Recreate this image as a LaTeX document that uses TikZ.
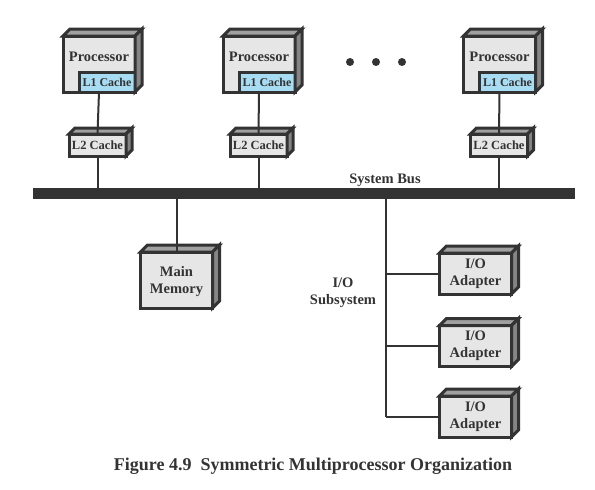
\documentclass[tikz,border=0pt]{standalone}
\usepackage{fontspec}
\setmainfont{Liberation Serif}
\definecolor{ink}{HTML}{333333}
\definecolor{front}{HTML}{E6E6E6}
\definecolor{topface}{HTML}{A0A0A0}
\definecolor{sideface}{HTML}{858585}
\definecolor{cacheblue}{HTML}{A8DCF2}
\begin{document}
\begin{tikzpicture}[x=1pt, y=-1pt, text=ink,
  box/.style={rectangle, draw=ink, line width=3pt, fill=front, inner sep=0pt, outer sep=0pt, minimum width=72, minimum height=#1, font=\fontsize{14.5}{17}\selectfont\bfseries, align=center},
  box/.default=56,
  small/.style={box, minimum width=57, minimum height=22, font=\fontsize{12.5}{14}\selectfont\bfseries},
  l1/.style={small, fill=cacheblue, minimum width=56, minimum height=20, anchor=south east, font=\fontsize{12}{14}\selectfont\bfseries},
  ptext/.style={anchor=north, yshift=-12.5pt, font=\fontsize{14.5}{17}\selectfont\bfseries},
  face/.style={draw=ink, line width=3pt, line join=miter, fill=#1},
  wire/.style={draw=ink, line width=2pt},
  dot/.style={circle, fill=ink, inner sep=0pt, minimum size=8},
  txt/.style={font=\fontsize{14.5}{17}\selectfont\bfseries, align=center}]

\useasboundingbox (0,0) rectangle (595,490);

\node [box, label={[ptext]north:Processor}] (P1) at (99,64) {};
\node [box, label={[ptext]north:Processor}] (P2) at (259,64) {};
\node [box, label={[ptext]north:Processor}] (P3) at (499.5,64) {};
\node [l1] (C1) at (P1.south east) {L1 Cache};
\node [l1] (C2) at (P2.south east) {L1 Cache};
\node [l1] (C3) at (P3.south east) {L1 Cache};
\node [small] (L2a) at (97.5,145) {L2 Cache};
\node [small] (L2b) at (258.5,145) {L2 Cache};
\node [small] (L2c) at (499,145) {L2 Cache};
\node [dot] (D1) at (350,62) {};
\node [dot] (D2) at (376,62) {};
\node [dot] (D3) at (402,62) {};

\node [rectangle, fill=ink, inner sep=0pt, minimum width=542, minimum height=11] (BUS) at (304,193.5) {};
\node [txt] (SB) at (385,180) {System Bus};

\node [box, text depth=-3pt] (MEM) at (176.5,280) {Main\\Memory};
\node [box=41] (IO1) at (475.5,273.5) {I/O\\Adapter};
\node [box=41] (IO2) at (475.5,346) {I/O\\Adapter};
\node [box=41] (IO3) at (475.5,416.5) {I/O\\Adapter};
\node [txt] (IOS) at (343,292.5) {I/O\\Subsystem};
\coordinate (J) at (386,0);

% 3D faces
\foreach \n/\d in {P1/7,P2/7,P3/7,L2a/6,L2b/6,L2c/6,MEM/7,IO1/7,IO2/7,IO3/7} {
  \draw[face=topface] (\n.north west) -- ++(\d,-\d) -- ([shift={(\d,-\d)}]\n.north east) -- (\n.north east) -- cycle;
  \draw[face=sideface] (\n.north east) -- ++(\d,-\d) -- ([shift={(\d,-\d)}]\n.south east) -- (\n.south east) -- cycle;
}

\draw[wire] (P1.south) -- (L2a.north);
\draw[wire] (P2.south) -- (L2b.north);
\draw[wire] (P3.south) -- (L2c.north);
\draw[wire] (L2a.south) -- (L2a.south |- BUS.north);
\draw[wire] (L2b.south) -- (L2b.south |- BUS.north);
\draw[wire] (L2c.south) -- (L2c.south |- BUS.north);
\draw[wire] (MEM.north |- BUS.south) -- (MEM.north);
\draw[wire] (J |- BUS.south) -- (J |- IO3.west);
\draw[wire] (J |- IO1.west) -- (IO1.west);
\draw[wire] (J |- IO2.west) -- (IO2.west);
\draw[wire] (J |- IO3.west) -- (IO3.west);

\node [font=\fontsize{18}{20}\selectfont\bfseries] (CAP) at (313,466) {Figure 4.9\enspace Symmetric Multiprocessor Organization};

\end{tikzpicture}
\end{document}
